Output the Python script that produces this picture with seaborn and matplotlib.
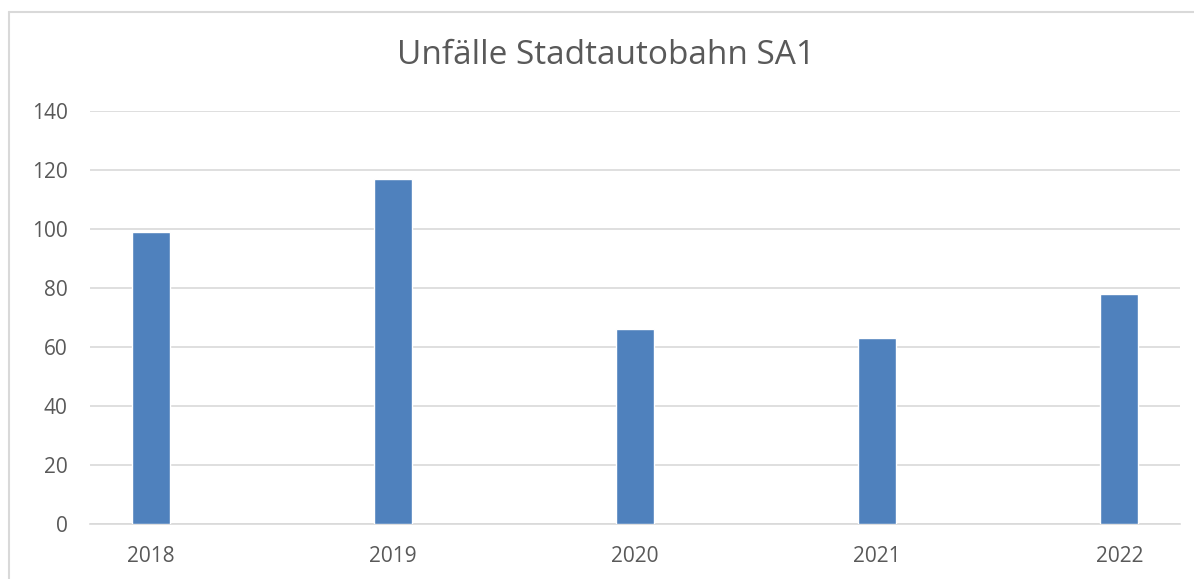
import matplotlib
matplotlib.use("Agg")
import matplotlib.pyplot as plt
import seaborn as sns
import pandas as pd
from matplotlib.lines import Line2D

years = ["2018", "2019", "2020", "2021", "2022"]
accidents = [99, 117, 66, 63, 78]
title = "Unfälle Stadtautobahn SA1"

sns.set_theme(style="white")
plt.rcParams['font.family'] = ['Open Sans', 'DejaVu Sans']

df = pd.DataFrame({"Jahr": years, "Unfälle": accidents})

W, H = 1194, 579
fig = plt.figure(figsize=(W / 100, H / 100), dpi=100)
x0, x1, y0, y1 = 90, 1180, 524, 111
ax = fig.add_axes([x0 / W, 1 - y0 / H, (x1 - x0) / W, (y0 - y1) / H])
sns.barplot(data=df, x="Jahr", y="Unfälle", color="#4f81bd", saturation=1,
            width=0.157, ax=ax, zorder=3)

ax.set_xlim(-0.25, 4.25)
ax.set_ylim(0, 140)
ax.set_yticks(range(0, 141, 20))
ax.yaxis.grid(True, color="#d9d9d9", linewidth=1.2, zorder=0)
ax.set_axisbelow(True)
for s in ["left", "right", "top"]:
    ax.spines[s].set_visible(False)
ax.spines["bottom"].set_color("#d9d9d9")
ax.spines["bottom"].set_linewidth(1.2)
ax.tick_params(axis="both", length=0, labelsize=15, labelcolor="#595959")
ax.tick_params(axis="x", pad=16)
ax.tick_params(axis="y", pad=16)
ax.set_xlabel("")
ax.set_ylabel("")

fig.text(606 / W, 1 - 56 / H, title, ha="center", va="center", fontsize=24, color="#595959")

fig.lines.append(Line2D([8.5 / W, 1], [1 - 11.5 / H, 1 - 11.5 / H], transform=fig.transFigure,
                        color="#d9d9d9", linewidth=1.5))
fig.lines.append(Line2D([8.5 / W, 8.5 / W], [0, 1 - 11.5 / H], transform=fig.transFigure,
                        color="#d9d9d9", linewidth=1.5))

fig.savefig("out.png", dpi=100, facecolor="white")
